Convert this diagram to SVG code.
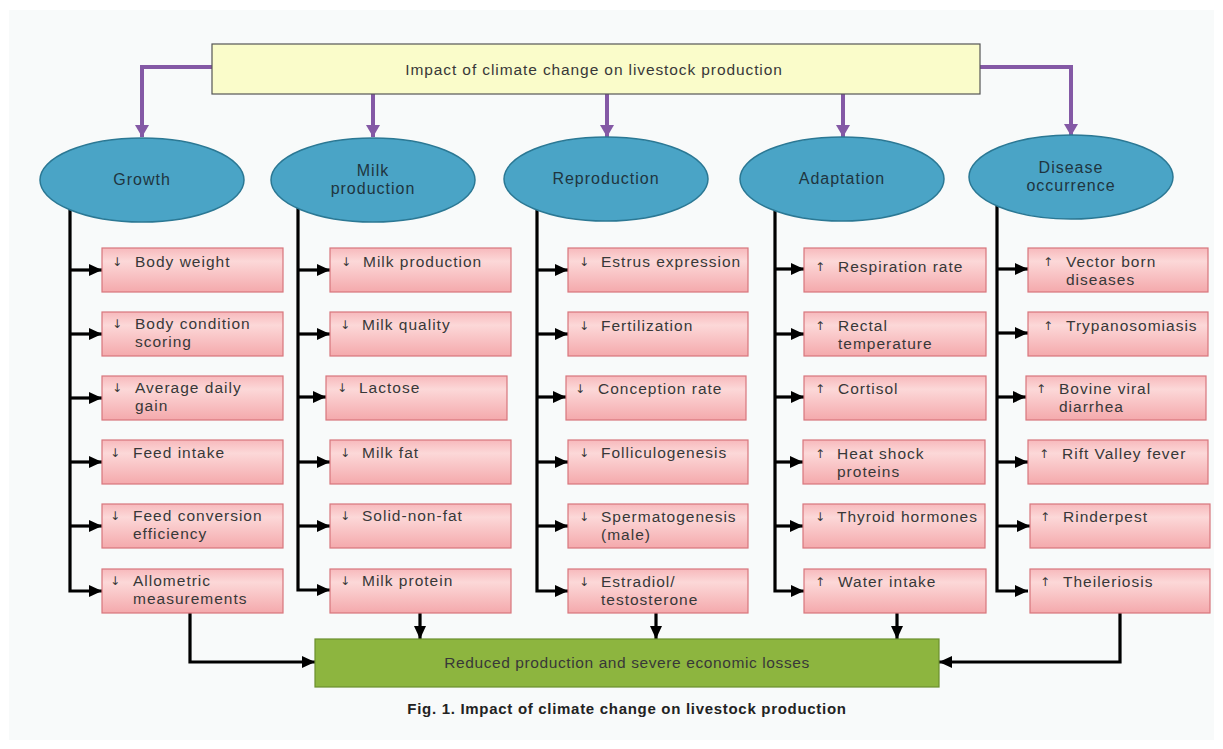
<svg xmlns="http://www.w3.org/2000/svg" width="1223" height="749" viewBox="0 0 1223 749">
<style>
.t{font-family:"Liberation Sans",Arial,sans-serif;font-size:15.5px;fill:#383838;letter-spacing:1px}
.a{font-family:"DejaVu Sans",sans-serif;font-size:12px;fill:#383838}
.el{fill:#4aa4c6;stroke:#2b7894;stroke-width:1.5}
.et{font-family:"Liberation Sans",Arial,sans-serif;font-size:16px;fill:#1f3540;text-anchor:middle;letter-spacing:1px}
.bx{fill:url(#pink);stroke:#d8767c;stroke-width:1.2}
.k{fill:none;stroke:#000;stroke-width:3.2;marker-end:url(#ah)}
.p{fill:none;stroke:#8459a5;stroke-width:4;marker-end:url(#ap)}
</style>
<defs>
<linearGradient id="pink" x1="0" y1="0" x2="0" y2="1">
<stop offset="0" stop-color="#f7b9bc"/>
<stop offset="0.3" stop-color="#fcd8d8"/>
<stop offset="1" stop-color="#f4a9ac"/>
</linearGradient>
<marker id="ah" markerUnits="userSpaceOnUse" markerWidth="14" markerHeight="14" refX="13" refY="7" orient="auto">
<path d="M0,1 L13,7 L0,13 z" fill="#000"/>
</marker>
<marker id="ap" markerUnits="userSpaceOnUse" markerWidth="16" markerHeight="14" refX="12" refY="7" orient="auto">
<path d="M0,0 L12,7 L0,14 z" fill="#8459a5"/>
</marker>
</defs>
<rect x="0" y="0" width="1223" height="749" fill="#ffffff"/>
<rect x="9" y="10" width="1205" height="730" fill="#f8fafa"/>

<g id="connectors">
<path class="p" d="M212,67 H142 V137"/>
<path class="p" d="M373,94 V137"/>
<path class="p" d="M607,94 V137"/>
<path class="p" d="M843,94 V137"/>
<path class="p" d="M980,67 H1071 V136"/>

<path class="k" d="M70,200 V591 H102"/>
<path class="k" d="M70,270 H102"/><path class="k" d="M70,334 H102"/><path class="k" d="M70,398 H102"/><path class="k" d="M70,462 H102"/><path class="k" d="M70,526 H102"/>

<path class="k" d="M298,200 V590 H330"/>
<path class="k" d="M298,270 H330"/><path class="k" d="M298,334 H330"/><path class="k" d="M298,397 H326"/><path class="k" d="M298,462 H330"/><path class="k" d="M298,526 H330"/>

<path class="k" d="M537,200 V591 H568"/>
<path class="k" d="M537,270 H568"/><path class="k" d="M537,334 H568"/><path class="k" d="M537,397 H566"/><path class="k" d="M537,462 H568"/><path class="k" d="M537,526 H568"/>

<path class="k" d="M775,200 V591 H804"/>
<path class="k" d="M775,269 H804"/><path class="k" d="M775,334 H804"/><path class="k" d="M775,397 H804"/><path class="k" d="M775,462 H803"/><path class="k" d="M775,526 H803"/>

<path class="k" d="M997,200 V591 H1028"/>
<path class="k" d="M997,269 H1028"/><path class="k" d="M997,333 H1028"/><path class="k" d="M997,397 H1026"/><path class="k" d="M997,462 H1028"/><path class="k" d="M997,526 H1030"/>

<path class="k" d="M190,613 V662 H315"/>
<path class="k" d="M420,613 V639"/>
<path class="k" d="M656,613 V639"/>
<path class="k" d="M897,613 V639"/>
<path class="k" d="M1120,612 V662 H939"/>
</g>

<g id="top">
<rect x="212" y="44" width="768" height="50" fill="#fafcca" stroke="#555" stroke-width="1.2"/>
<text class="t" x="594" y="75" text-anchor="middle" style="font-size:15.5px;letter-spacing:0.9px">Impact of climate change on livestock production</text>
</g>

<g id="growth"><ellipse class="el" cx="142" cy="180" rx="102" ry="42"/><text class="et" x="142" y="185">Growth</text></g>
<g id="milk"><ellipse class="el" cx="373" cy="180" rx="102" ry="42"/><text class="et" x="373" y="176">Milk</text><text class="et" x="373" y="194">production</text></g>
<g id="reproduction"><ellipse class="el" cx="606" cy="179" rx="102" ry="42"/><text class="et" x="606" y="184">Reproduction</text></g>
<g id="adaptation"><ellipse class="el" cx="842" cy="179" rx="102" ry="42"/><text class="et" x="842" y="184">Adaptation</text></g>
<g id="disease"><ellipse class="el" cx="1071" cy="177" rx="102" ry="42"/><text class="et" x="1071" y="173">Disease</text><text class="et" x="1071" y="191">occurrence</text></g>

<g id="g1"><rect class="bx" x="102" y="248" width="181" height="44"/><text class="a" x="112" y="266">↓</text><text class="t" x="135" y="267">Body weight</text></g>
<g id="g2"><rect class="bx" x="102" y="312" width="181" height="44"/><text class="a" x="112" y="328">↓</text><text class="t" x="135" y="329">Body condition</text><text class="t" x="135" y="347">scoring</text></g>
<g id="g3"><rect class="bx" x="102" y="376" width="181" height="44"/><text class="a" x="112" y="392">↓</text><text class="t" x="135" y="393">Average daily</text><text class="t" x="135" y="411">gain</text></g>
<g id="g4"><rect class="bx" x="102" y="440" width="181" height="44"/><text class="a" x="110" y="457">↓</text><text class="t" x="133" y="458">Feed intake</text></g>
<g id="g5"><rect class="bx" x="102" y="504" width="181" height="44"/><text class="a" x="110" y="520">↓</text><text class="t" x="133" y="521">Feed conversion</text><text class="t" x="133" y="539">efficiency</text></g>
<g id="g6"><rect class="bx" x="102" y="569" width="181" height="44"/><text class="a" x="110" y="585">↓</text><text class="t" x="133" y="586">Allometric</text><text class="t" x="133" y="604">measurements</text></g>

<g id="m1"><rect class="bx" x="330" y="248" width="181" height="44"/><text class="a" x="341" y="266">↓</text><text class="t" x="363" y="267">Milk production</text></g>
<g id="m2"><rect class="bx" x="330" y="312" width="181" height="44"/><text class="a" x="340" y="329">↓</text><text class="t" x="362" y="330">Milk quality</text></g>
<g id="m3"><rect class="bx" x="326" y="376" width="181" height="44"/><text class="a" x="337" y="392">↓</text><text class="t" x="359" y="393">Lactose</text></g>
<g id="m4"><rect class="bx" x="330" y="440" width="181" height="44"/><text class="a" x="340" y="457">↓</text><text class="t" x="362" y="458">Milk fat</text></g>
<g id="m5"><rect class="bx" x="330" y="504" width="181" height="44"/><text class="a" x="340" y="520">↓</text><text class="t" x="362" y="521">Solid-non-fat</text></g>
<g id="m6"><rect class="bx" x="330" y="569" width="181" height="44"/><text class="a" x="340" y="585">↓</text><text class="t" x="362" y="586">Milk protein</text></g>

<g id="r1"><rect class="bx" x="568" y="248" width="180" height="44"/><text class="a" x="579" y="266">↓</text><text class="t" x="601" y="267">Estrus expression</text></g>
<g id="r2"><rect class="bx" x="568" y="312" width="180" height="44"/><text class="a" x="579" y="330">↓</text><text class="t" x="601" y="331">Fertilization</text></g>
<g id="r3"><rect class="bx" x="566" y="376" width="180" height="44"/><text class="a" x="575" y="393">↓</text><text class="t" x="598" y="394">Conception rate</text></g>
<g id="r4"><rect class="bx" x="568" y="440" width="180" height="44"/><text class="a" x="579" y="457">↓</text><text class="t" x="601" y="458">Folliculogenesis</text></g>
<g id="r5"><rect class="bx" x="568" y="504" width="180" height="44"/><text class="a" x="579" y="521">↓</text><text class="t" x="601" y="522">Spermatogenesis</text><text class="t" x="601" y="540">(male)</text></g>
<g id="r6"><rect class="bx" x="568" y="569" width="180" height="44"/><text class="a" x="579" y="586">↓</text><text class="t" x="601" y="587">Estradiol/</text><text class="t" x="601" y="605">testosterone</text></g>

<g id="a1"><rect class="bx" x="804" y="248" width="182" height="44"/><text class="a" x="815" y="271">↑</text><text class="t" x="838" y="272">Respiration rate</text></g>
<g id="a2"><rect class="bx" x="804" y="312" width="182" height="44"/><text class="a" x="815" y="330">↑</text><text class="t" x="838" y="331">Rectal</text><text class="t" x="838" y="349">temperature</text></g>
<g id="a3"><rect class="bx" x="804" y="376" width="182" height="44"/><text class="a" x="815" y="393">↑</text><text class="t" x="838" y="394">Cortisol</text></g>
<g id="a4"><rect class="bx" x="803" y="440" width="182" height="44"/><text class="a" x="815" y="458">↑</text><text class="t" x="837" y="459">Heat shock</text><text class="t" x="837" y="477">proteins</text></g>
<g id="a5"><rect class="bx" x="803" y="504" width="182" height="44"/><text class="a" x="815" y="521">↓</text><text class="t" x="837" y="522">Thyroid hormones</text></g>
<g id="a6"><rect class="bx" x="804" y="569" width="182" height="44"/><text class="a" x="815" y="586">↑</text><text class="t" x="838" y="587">Water intake</text></g>

<g id="d1"><rect class="bx" x="1028" y="248" width="180" height="44"/><text class="a" x="1043" y="266">↑</text><text class="t" x="1066" y="267">Vector born</text><text class="t" x="1066" y="285">diseases</text></g>
<g id="d2"><rect class="bx" x="1028" y="312" width="180" height="44"/><text class="a" x="1043" y="330">↑</text><text class="t" x="1066" y="331">Trypanosomiasis</text></g>
<g id="d3"><rect class="bx" x="1026" y="376" width="180" height="44"/><text class="a" x="1036" y="393">↑</text><text class="t" x="1059" y="394">Bovine viral</text><text class="t" x="1059" y="412">diarrhea</text></g>
<g id="d4"><rect class="bx" x="1028" y="440" width="180" height="44"/><text class="a" x="1039" y="458">↑</text><text class="t" x="1062" y="459">Rift Valley fever</text></g>
<g id="d5"><rect class="bx" x="1030" y="504" width="180" height="44"/><text class="a" x="1040" y="521">↑</text><text class="t" x="1063" y="522">Rinderpest</text></g>
<g id="d6"><rect class="bx" x="1030" y="569" width="180" height="44"/><text class="a" x="1040" y="586">↑</text><text class="t" x="1063" y="587">Theileriosis</text></g>

<g id="result">
<rect x="315" y="639" width="624" height="48" fill="#8db53f" stroke="#6b8f2d" stroke-width="1.2"/>
<text class="t" x="627" y="668" text-anchor="middle" style="letter-spacing:0.6px">Reduced production and severe economic losses</text>
</g>

<text x="627" y="714" text-anchor="middle" font-family="Liberation Sans, Arial, sans-serif" font-size="15" font-weight="bold" letter-spacing="0.7" fill="#222">Fig. 1. Impact of climate change on livestock production</text>
</svg>
